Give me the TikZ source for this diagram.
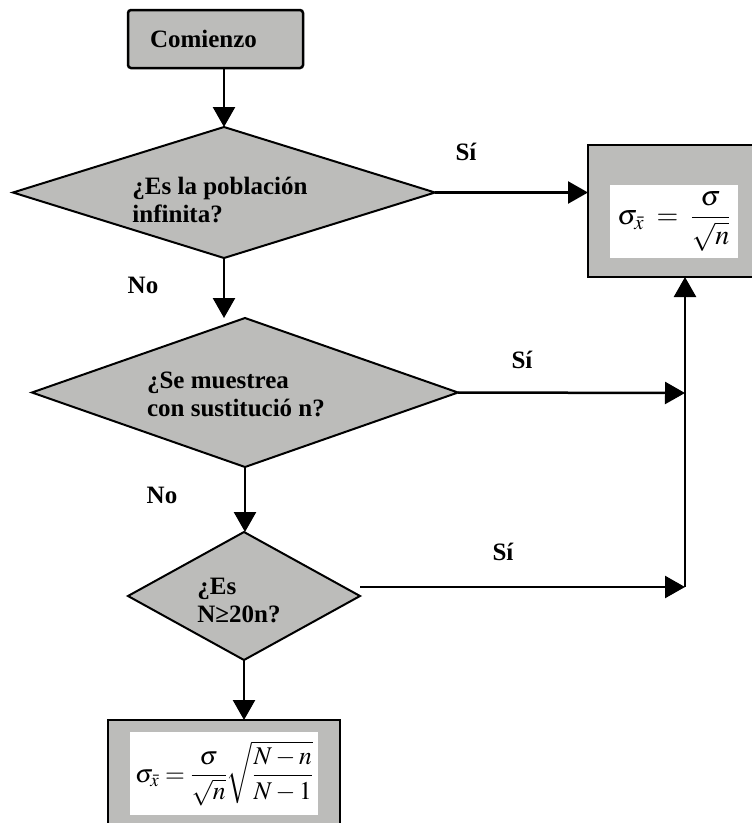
\documentclass[tikz,border=0pt]{standalone}
\usepackage{mathptmx}
\usepackage[no-math]{fontspec}
\setmainfont{Liberation Serif}
\usetikzlibrary{shapes.geometric,arrows.meta,calc}
\definecolor{boxgray}{RGB}{188,188,186}
\begin{document}
\begin{tikzpicture}[x=1pt,y=-1pt,
  dec/.style={diamond, draw=black, line width=2pt, fill=boxgray, inner sep=0pt, outer sep=0pt},
  frame/.style={draw=black, line width=2.5pt, fill=boxgray, outer sep=0pt},
  inner/.style={fill=white, inner sep=0pt},
  lbl/.style={font=\fontsize{25}{27}\selectfont\bfseries, inner sep=0pt},
  txt/.style={font=\fontsize{25}{28}\selectfont\bfseries, align=left, inner sep=0pt},
  conn/.style={line width=2.5pt, -{Triangle[length=20pt,width=22pt]}}]
\useasboundingbox (0,0) rectangle (752,823);

% start box
\node[frame, rounded corners=3pt, minimum width=175pt, minimum height=58pt,
      text width=131pt, inner xsep=22pt, align=left,
      font=\fontsize{25}{27}\selectfont\bfseries] (start) at (215.5,39) {Comienzo};

% decisions
\node[dec, minimum width=422pt, minimum height=131pt] (d1) at (224,192.5) {};
\node[txt] (t1) at (220,200) {¿Es la población\\infinita?};

\node[dec, minimum width=426pt, minimum height=149pt] (d2) at (245,392.5) {};
\node[txt] (t2) at (236,394) {¿Se muestrea\\con sustitució n?};

\node[dec, minimum width=232pt, minimum height=128pt] (d3) at (244,596) {};
\node[txt] (t3) at (239,600) {¿Es\\N≥20n?};

% result boxes
\node[frame, minimum width=170pt, minimum height=132pt, inner sep=0pt] (rbox) at (673,211) {};
\node[inner, minimum width=128pt, minimum height=73pt, font=\fontsize{28}{32}\selectfont]
     (rf) at (674,221.5) {$\displaystyle \sigma_{\bar x}\;=\;\frac{\sigma}{\sqrt{n}}$};

\node[frame, minimum width=232pt, minimum height=120pt, inner sep=0pt] (bbox) at (224,780) {};
\node[inner, minimum width=188pt, minimum height=83pt, font=\fontsize{25.5}{30}\selectfont]
     (bf) at (224,773.5) {$\displaystyle \sigma_{\bar x}=\frac{\sigma}{\sqrt{n}}\sqrt{\frac{N-n}{N-1}}$};

% junctions
\coordinate (j2) at (685,393);
\coordinate (j3) at (685,587);

% connectors
\draw[conn] (start.south -| d1.north) -- (d1.north);
\draw[conn] (d1.east) -- (d1.east -| rbox.west);
\draw[conn] (d1.south) -- (d1.south |- d2.north);
\draw[conn] (d2.east) -- (j2);
\draw[conn] (d2.south) -- (d2.south |- d3.north);
\draw[conn] (d3.east |- j3) -- (j3);
\draw[conn] (j3) -- (j3 |- rbox.south);
\draw[conn] (d3.south) -- (d3.south |- bbox.north);

% labels
\node[lbl] (s1) at (466,152) {Sí};
\node[lbl] (s2) at (522,360) {Sí};
\node[lbl] (s3) at (503,552) {Sí};
\node[lbl] (n1) at (143,285) {No};
\node[lbl] (n2) at (162,495) {No};
\end{tikzpicture}
\end{document}
